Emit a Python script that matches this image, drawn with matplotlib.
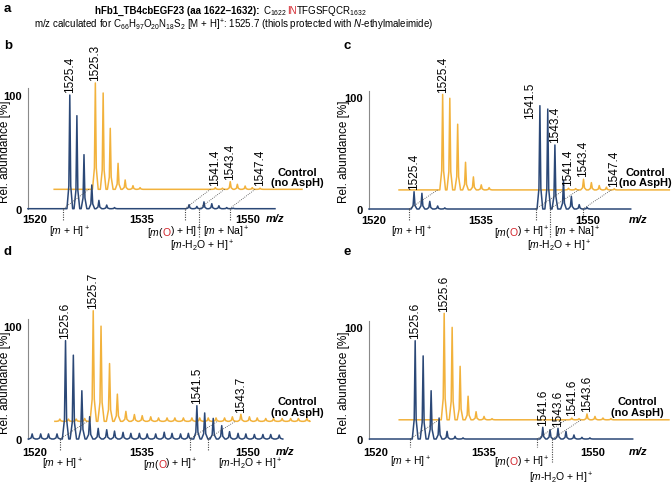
import matplotlib
matplotlib.use('Agg')
import matplotlib.pyplot as plt
from matplotlib import rcParams as rc

rc['font.family'] = 'Liberation Sans'
rc['mathtext.fontset'] = 'custom'
rc['mathtext.rm'] = 'Liberation Sans'
rc['mathtext.it'] = 'Liberation Sans:italic'
rc['mathtext.bf'] = 'Liberation Sans:bold'
rc['font.size'] = 8

BLUE = '#2b4877'
ORANGE = '#f2b23c'
RED = '#d2232a'
LINE = '#444444'
W, H, DPI = 672, 485, 100

# ---- spectra: peak centres (m/z) and heights (%); ctrl = control (no AspH) ----
b_blue_mz = [1524.9, 1525.9, 1526.9, 1528.0, 1529.0, 1530.1, 1531.2,
             1541.7, 1542.8, 1543.8, 1544.9, 1545.9, 1547.0, 1547.9]
b_blue_int = [99.7, 81.6, 47.4, 20.8, 7.3, 3.2, 1.0,
              3.5, 2.0, 6.0, 4.4, 2.6, 1.0, 0.5]
b_ctrl_mz = [1524.9, 1526.0, 1527.0, 1528.1, 1529.1, 1530.2, 1531.2,
             1541.8, 1542.8, 1543.9, 1544.9, 1546.0, 1547.0, 1548.1]
b_ctrl_int = [93.3, 84.5, 53.5, 22.8, 8.2, 3.2, 1.5,
              1.5, 1.0, 6.7, 4.4, 2.9, 1.5, 1.0]

c_blue_mz = [1525.7, 1526.8, 1527.9, 1529.0, 1530.0,
             1543.3, 1544.4, 1545.4, 1546.6, 1547.7, 1548.8, 1549.9]
c_blue_int = [15.4, 14.0, 6.8, 2.7, 1.0,
              92.0, 89.0, 57.0, 25.5, 11.3, 3.9, 1.5]
c_ctrl_mz = [1525.7, 1526.7, 1527.8, 1528.9, 1530.0, 1531.1, 1532.2,
             1543.3, 1544.3, 1545.4, 1546.5, 1547.6, 1548.6, 1549.7]
c_ctrl_int = [85.0, 81.6, 58.5, 24.6, 11.6, 4.5, 2.0,
              1.5, 1.2, 9.5, 6.5, 3.9, 2.4, 1.0]

d_mz = [1519.6, 1520.8, 1521.9, 1523.1, 1524.3, 1525.4, 1526.6, 1527.7,
        1528.9, 1530.1, 1531.2, 1532.4, 1533.5, 1534.7, 1535.8, 1537.0,
        1538.2, 1539.3, 1540.5, 1541.6, 1542.8, 1543.9, 1545.1, 1546.3,
        1547.4, 1548.6, 1549.7, 1550.9, 1552.1, 1553.2, 1554.4]
d_blue_int = [4.5, 4.5, 4.5, 4.5, 86.8, 74.0, 42.6, 19.7, 9.4, 8.2, 7.0,
              5.9, 5.0, 5.0, 4.5, 4.5, 6.0, 5.0, 4.5, 5.0, 29.4, 23.0,
              18.2, 11.8, 6.5, 5.0, 4.5, 4.0, 4.0, 4.0, 3.5]
d_ctrl_int = [2.0, 2.0, 2.0, 2.5, 97.6, 84.0, 51.0, 24.0, 8.8, 6.0, 5.0,
              4.0, 3.0, 3.0, 3.0, 3.0, 3.0, 3.0, 3.0, 3.0, 3.0, 4.0,
              6.2, 4.0, 3.0, 2.5, 2.5, 2.5, 2.5, 2.5, 2.5]

e_blue_mz = [1525.5, 1526.6, 1527.7, 1528.8, 1529.9, 1531.0, 1532.1,
             1543.1, 1544.1, 1545.2, 1546.3, 1547.4, 1548.5, 1549.6]
e_blue_int = [87.5, 74.0, 43.0, 18.7, 6.8, 2.4, 1.0,
              10.4, 8.3, 9.5, 6.8, 3.6, 1.5, 1.0]
e_ctrl_mz = [1525.5, 1526.6, 1527.7, 1528.8, 1529.9, 1531.0, 1532.1,
             1543.1, 1544.1, 1545.2, 1546.3, 1547.4, 1548.5]
e_ctrl_int = [94.8, 82.3, 47.6, 21.0, 7.2, 3.0, 1.0,
              1.5, 1.0, 5.2, 3.0, 1.6, 1.0]

# trace extents (m/z)
b_range = [(1519.0, 1553.8), (1519.1, 1554.0)]
c_range = [(1519.4, 1556.0), (1519.6, 1557.4)]
d_range = [(1519.06, 1554.9), (1518.9, 1554.8)]
e_range = [(1519.2, 1555.5), (1519.3, 1556.5)]

# peak labels: (text, trace, peak index)
b_labels = [('1525.4', 'blue', 0), ('1525.3', 'ctrl', 0), ('1541.4', 'ctrl', 7),
            ('1543.4', 'ctrl', 9), ('1547.4', 'ctrl', 13)]
c_labels = [('1525.4', 'blue', 0), ('1525.4', 'ctrl', 0), ('1541.5', 'blue', 5),
            ('1543.4', 'blue', 7), ('1541.4', 'ctrl', 7), ('1543.4', 'ctrl', 9),
            ('1547.4', 'ctrl', 13)]
d_labels = [('1525.6', 'blue', 4), ('1525.7', 'ctrl', 4), ('1541.5', 'blue', 20),
            ('1543.7', 'ctrl', 22)]
e_labels = [('1525.6', 'blue', 0), ('1525.6', 'ctrl', 0), ('1541.6', 'blue', 7),
            ('1543.6', 'blue', 9), ('1541.6', 'ctrl', 7), ('1543.6', 'ctrl', 9)]

MH = [('[$m$ + H]$^+$', 'k')]
MOH = [('[$m$(', 'k'), ('O', RED), (') + H]$^+$', 'k')]
MNA = [('[$m$ + Na]$^+$', 'k')]
MH2O = [('[$m$-H$_2$O + H]$^+$', 'k')]

# ions: (marker m/z, label, label m/z, row)
b_ions = [(1524.0, MH, 1524.9, 0), (1541.1, MOH, 1539.6, 0),
          (1543.1, MH2O, 1543.5, 1), (1547.4, MNA, 1546.9, 0)]
c_ions = [(1525.0, MH, 1525.3, 0), (1542.7, MOH, 1540.7, 0),
          (1544.7, MH2O, 1546.0, 1), (1549.3, MNA, 1548.6, 0)]
d_ions = [(1523.5, MH, 1523.8, 0), (1541.8, MOH, 1539.0, 0),
          (1544.3, MH2O, 1550.3, 0)]
e_ions = [(1524.8, MH, 1524.9, 0), (1542.3, MOH, 1540.1, 0),
          (1544.4, MH2O, 1545.6, 1)]

xticks = [1520, 1535, 1550]

PANELS = {
    'b': dict(blue=(b_blue_mz, b_blue_int), ctrl=(b_ctrl_mz, b_ctrl_int), rng=b_range,
              labels=b_labels, ions=b_ions, spine=28, t1520=35, slope=7.1,
              y0=209.7, y100=95.7, dx=3.6, dy=17, w=0.4, tick_off=9.3,
              rows=(22.5, 36.5), mark=(12, 28), mz_x=1553.8, ctrl_txt=(1556.9, 27.8),
              letter=(4, 46), ylab=(5, 152)),
    'c': dict(blue=(c_blue_mz, c_blue_int), ctrl=(c_ctrl_mz, c_ctrl_int), rng=c_range,
              labels=c_labels, ions=c_ions, spine=369.3, t1520=373.3, slope=7.15,
              y0=210, y100=97.7, dx=4.0, dy=17, w=0.4, tick_off=10,
              rows=(22.5, 36.5), mark=(12, 29), mz_x=1557.0, ctrl_txt=(1558.0, 28.5),
              letter=(343, 46), ylab=(344, 152)),
    'd': dict(blue=(d_mz, d_blue_int), ctrl=(d_mz, d_ctrl_int), rng=d_range,
              labels=d_labels, ions=d_ions, spine=28.3, t1520=35, slope=7.1,
              y0=440, y100=326.7, dx=3.9, dy=15.6, w=0.45, tick_off=12.3,
              rows=(24.5, 40), mark=(12, 12), mz_x=1555.2, ctrl_txt=(1556.9, 28.7),
              letter=(4, 252), ylab=(5, 383)),
    'e': dict(blue=(e_blue_mz, e_blue_int), ctrl=(e_ctrl_mz, e_ctrl_int), rng=e_range,
              labels=e_labels, ions=e_ions, spine=369.3, t1520=375.3, slope=7.25,
              y0=440, y100=327.7, dx=4.0, dy=17.1, w=0.4, tick_off=12,
              rows=(22, 38.5), mark=(8, 23), mz_x=1556.2, ctrl_txt=(1556.2, 28.8),
              letter=(343, 252), ylab=(344, 383)),
}
# extra offsets (points) for labels that sit beside their peak
LABEL_SHIFT = {('c', '1541.5'): (-7, -9)}

fig = plt.figure(figsize=(W / DPI, H / DPI), dpi=DPI)
renderer = fig.canvas.get_renderer()
PT = 72 / DPI


def spectrum(mz, inten, start, end, w, dx=0.0, dy=0.0):
    xs, ys = [start + dx], [dy]
    for m, h in sorted(zip(mz, inten)):
        xs += [m - w + dx, m - w / 3 + dx, m + dx, m + w / 3 + dx, m + w + dx]
        ys += [dy, dy + 0.2 * h, dy + h, dy + 0.2 * h, dy]
    xs.append(end + dx)
    ys.append(dy)
    return xs, ys


def rich_ax(ax, x, below_px, pieces, size=7.5):
    ts = [ax.annotate(s, xy=(x, 0), xytext=(0, 0), textcoords='offset points',
                      color=c, ha='left', va='baseline', fontsize=size,
                      annotation_clip=False) for s, c in pieces]
    ws = [t.get_window_extent(renderer).width - (1.2 if len(pieces) > 1 else 0) for t in ts]
    cur = -sum(ws) / 2
    for t, wd in zip(ts, ws):
        t.xyann = (cur * PT, -(below_px + 3.5) * PT)
        cur += wd


def rich_fig(cx, base, pieces, size=7, gap=0):
    ts = [fig.text(0, 0, s, color=c, fontweight=wt, ha='left', va='baseline', fontsize=size)
          for s, c, wt in pieces]
    ws = [t.get_window_extent(renderer).width for t in ts]
    cur = cx - (sum(ws) + gap) / 2
    for i, (t, wd) in enumerate(zip(ts, ws)):
        t.set_position((cur / W, 1 - base / H))
        cur += wd + (gap if i == 0 else 0)


# header
fig.text(4 / W, 1 - 9 / H, 'a', fontweight='bold', fontsize=9.5, va='center')
rich_fig(231, 14, [('hFb1_TB4cbEGF23 (aa 1622–1632):', 'k', 'bold'),
                   ('C$_{1622}$', 'k', 'normal'), ('IN', RED, 'normal'),
                   ('TFGSFQCR$_{1632}$', 'k', 'normal')], gap=3)
rich_fig(234, 29, [('m/z calculated for C$_{66}$H$_{97}$O$_{20}$N$_{18}$S$_2$ [M + H]$^{+}$: '
                    '1525.7 (thiols protected with $N$-ethylmaleimide)', 'k', 'normal')])

for key, p in PANELS.items():
    ys = (p['y0'] - p['y100']) / 100
    xl = 1520 - (p['t1520'] - p['spine']) / p['slope']
    xr = 1556
    right = p['t1520'] + (xr - 1520) * p['slope']
    ytop = 105.5
    ax = fig.add_axes([p['spine'] / W, 1 - p['y0'] / H, (right - p['spine']) / W, ytop * ys / H])
    ax.set_xlim(xl, xr)
    ax.set_ylim(0, ytop)
    ax.patch.set_visible(False)
    for s in ['top', 'right', 'bottom']:
        ax.spines[s].set_visible(False)
    ax.spines['left'].set_color('#8a8a8a')
    ax.spines['left'].set_linewidth(0.8)
    ax.set_yticks([0, 100])
    ax.set_yticklabels(['0', '100'], fontweight='bold')
    ax.set_xticks(xticks)
    ax.set_xticklabels([str(t) for t in xticks], fontweight='bold')
    ax.tick_params(axis='y', length=0, pad=4.5, labelsize=8)
    ax.tick_params(axis='x', length=0, pad=(p['tick_off'] - 4) * PT, labelsize=8)
    ax.annotate('m/z', xy=(p['mz_x'], 0), xytext=(0, -p['tick_off'] * PT),
                textcoords='offset points', ha='center', va='center', fontsize=8,
                fontweight='bold', fontstyle='italic', annotation_clip=False)

    (bmz, bint), (cmz, cint) = p['blue'], p['ctrl']
    (b0, b1), (c0, c1) = p['rng']
    x, y = spectrum(cmz, cint, c0, c1, p['w'], p['dx'], p['dy'])
    ax.plot(x, y, color=ORANGE, lw=1.1, clip_on=False, zorder=2)
    x, y = spectrum(bmz, bint, b0, b1, p['w'])
    ax.plot(x, y, color=BLUE, lw=1.1, clip_on=False, zorder=3)

    for txt, tr, i in p['labels']:
        if tr == 'blue':
            px, py = bmz[i], bint[i]
        else:
            px, py = cmz[i] + p['dx'], cint[i] + p['dy']
        off = LABEL_SHIFT.get((key, txt), (0, 2))
        ax.annotate(txt, xy=(px, py), xytext=off, textcoords='offset points',
                    rotation=90, ha='center', va='bottom', fontsize=8.5,
                    annotation_clip=False)

    for m, lab, lx, row in p['ions']:
        ax.plot([m, m + p['dx']], [0, p['dy']], ls=(0, (1, 1.5)), color=LINE, lw=0.6,
                clip_on=False, zorder=4)
        ax.plot([m, m], [0, -p['mark'][row] / ys], ls=(0, (1, 1.2)), color=LINE, lw=0.8,
                clip_on=False, zorder=4)
        rich_ax(ax, lx, p['rows'][row], lab)

    ax.text(p['ctrl_txt'][0], p['ctrl_txt'][1], 'Control\n(no AspH)', ha='center',
            va='center', fontweight='bold', fontsize=8, linespacing=1.05)
    fig.text(p['letter'][0] / W, 1 - p['letter'][1] / H, key, fontweight='bold',
             fontsize=9.5, va='center')
    fig.text(p['ylab'][0] / W, 1 - p['ylab'][1] / H, 'Rel. abundance [%]', rotation=90,
             ha='center', va='center', fontsize=8.5)

fig.savefig('out.png', dpi=DPI)
